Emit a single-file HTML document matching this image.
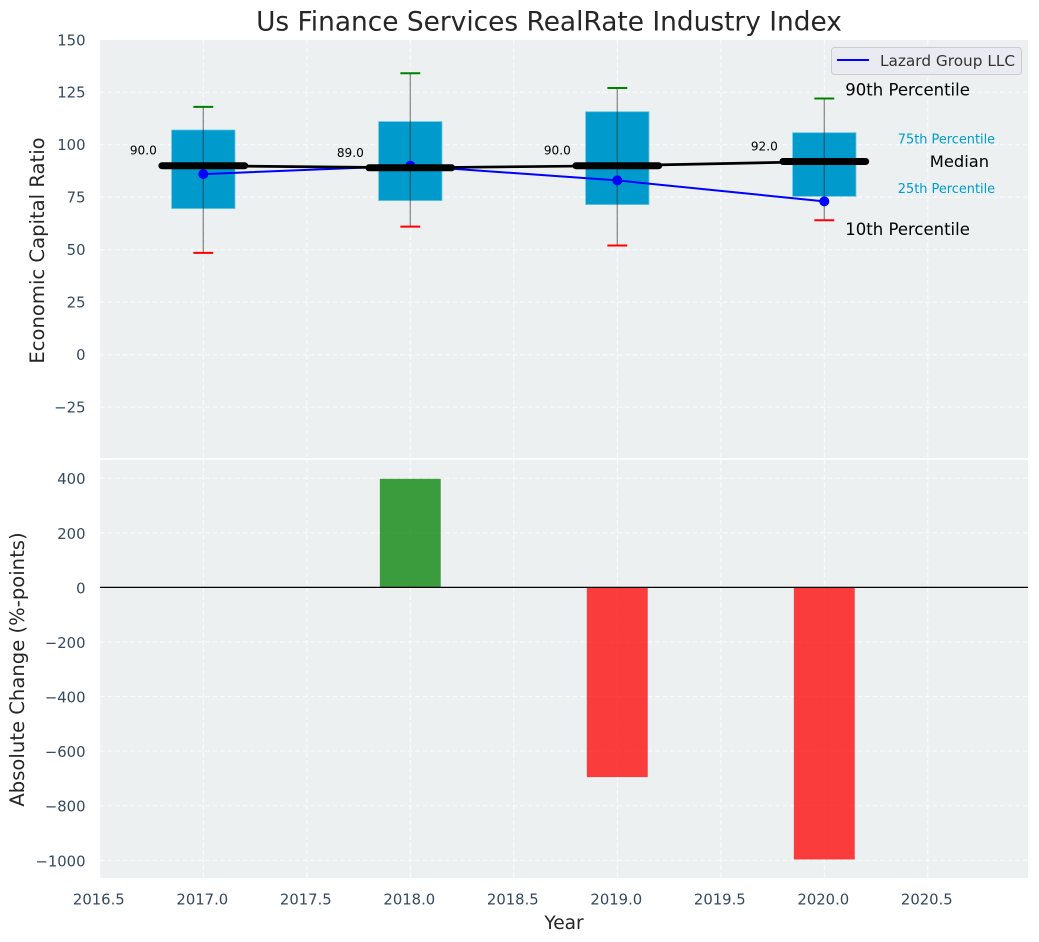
<!DOCTYPE html>
<html lang="en">
<head>
<meta charset="utf-8">
<title>Us Finance Services RealRate Industry Index</title>
<style>
html,body{margin:0;padding:0;background:#fff;}
svg{display:block;font-family:"DejaVu Sans","Liberation Sans",sans-serif;}
</style>
</head>
<body>
<svg id="chart" xmlns="http://www.w3.org/2000/svg" width="1039" height="942" viewBox="0 0 1039 942">
  <rect x="0" y="0" width="1039" height="942" fill="#ffffff"/>
  <rect x="100" y="40" width="928" height="418" fill="#ecf0f1"/>
  <rect x="100" y="460" width="928" height="418" fill="#ecf0f1"/>
  <g id="grid"></g>
  <g id="marks"></g>
  <g id="labels"></g>
  <text x="549" y="30.5" font-size="26.4" fill="#262626" text-anchor="middle">Us Finance Services RealRate Industry Index</text>
  <text transform="translate(44 250.5) rotate(-90)" font-size="19.6" fill="#262626" text-anchor="middle">Economic Capital Ratio</text>
  <text transform="translate(24 669.5) rotate(-90)" font-size="19.6" fill="#262626" text-anchor="middle">Absolute Change (%-points)</text>
  <text x="564" y="929" font-size="18.6" fill="#262626" text-anchor="middle">Year</text>
  <g>
    <rect x="831.5" y="47.5" width="190" height="27" rx="3" ry="3" fill="#eaeaf2" fill-opacity="0.8" stroke="#cccccc" stroke-width="1"/>
    <line x1="837" x2="869" y1="60" y2="60" stroke="#0000ff" stroke-width="2"/>
    <text x="880" y="66" font-size="15.3" fill="#333333">Lazard Group LLC</text>
  </g>
</svg>
<script>
const years = [2017, 2018, 2019, 2020];
const p90 = [118, 134, 127, 122];
const q3 = [107, 111, 115.7, 105.7];
const medians = [90, 89, 90, 92];
const q1 = [69.6, 73.4, 71.5, 75.4];
const p10 = [48.5, 61, 52, 64];
const lazard = [86, 90, 83, 73];
const absoluteChange = [0, 398, -695, -997];
const medianLabels = ['90.0', '89.0', '90.0', '92.0'];
const xTicks = [2016.5, 2017, 2017.5, 2018, 2018.5, 2019, 2019.5, 2020, 2020.5];
const xTickLabels = ['2016.5', '2017.0', '2017.5', '2018.0', '2018.5', '2019.0', '2019.5', '2020.0', '2020.5'];
const topTicks = [-25, 0, 25, 50, 75, 100, 125, 150];
const topTickLabels = ['\u221225', '0', '25', '50', '75', '100', '125', '150'];
const bottomTicks = [-1000, -800, -600, -400, -200, 0, 200, 400];
const bottomTickLabels = ['\u22121000', '\u2212800', '\u2212600', '\u2212400', '\u2212200', '0', '200', '400'];

const x = v => 203.3 + (v - 2017) * 207;
const yTop = v => 39.7 + (150 - v) * 2.1;
const yBottom = v => 587.4 - v * 0.2729;

const NS = 'http://www.w3.org/2000/svg';
const gridLayer = document.getElementById('grid');
const marksLayer = document.getElementById('marks');
const labelsLayer = document.getElementById('labels');

function make(parent, tag, attrs, text) {
  const el = document.createElementNS(NS, tag);
  for (const k in attrs) el.setAttribute(k, attrs[k]);
  if (text !== undefined) el.textContent = text;
  parent.appendChild(el);
  return el;
}
const gridStyle = {stroke: '#ffffff', 'stroke-width': 1.05, 'stroke-dasharray': '5 2.5', 'stroke-opacity': 0.75};

xTicks.forEach((t, i) => {
  const a = make(gridLayer, 'line', {x1: x(t), x2: x(t), y1: 40, y2: 458, ...gridStyle});
  
  
  const b = make(gridLayer, 'line', {x1: x(t), x2: x(t), y1: 460, y2: 878, ...gridStyle});
  
  
  const l = make(labelsLayer, 'text', {x: x(t) - 1, y: 904.5, 'font-size': 14.8, fill: '#34495e', 'text-anchor': 'middle'}, xTickLabels[i]);
  
  
});
topTicks.forEach((t, i) => {
  if (t === 150) {
    const l0 = make(labelsLayer, 'text', {x: 85.5, y: yTop(t) + 5.8, 'font-size': 14.8, fill: '#34495e', 'text-anchor': 'end'}, topTickLabels[i]);
    
    
    return;
  }
  const g = make(gridLayer, 'line', {x1: 100, x2: 1028, y1: yTop(t), y2: yTop(t), ...gridStyle});
  
  
  const l = make(labelsLayer, 'text', {x: 85.5, y: yTop(t) + 5.5, 'font-size': 14.8, fill: '#34495e', 'text-anchor': 'end'}, topTickLabels[i]);
  
  
});
bottomTicks.forEach((t, i) => {
  const g = make(gridLayer, 'line', {x1: 100, x2: 1028, y1: yBottom(t), y2: yBottom(t), ...gridStyle});
  
  
  const l = make(labelsLayer, 'text', {x: 85.5, y: yBottom(t) + 6, 'font-size': 14.8, fill: '#34495e', 'text-anchor': 'end'}, bottomTickLabels[i]);
  
  
});

// change bars
years.forEach((yr, i) => {
  const v = absoluteChange[i];
  if (v === 0) return;
  const top = Math.min(yBottom(v), yBottom(0));
  const h = Math.abs(yBottom(v) - yBottom(0));
  const r = make(marksLayer, 'rect', {x: x(yr - 0.147), y: top, width: x(yr + 0.147) - x(yr - 0.147), height: h, fill: v >= 0 ? '#008000' : '#ff0000', 'fill-opacity': 0.75});
  
  
});
const zero = make(marksLayer, 'line', {x1: 100, x2: 1028, y1: yBottom(0), y2: yBottom(0), stroke: '#000000', 'stroke-width': 1.3});



// boxes
years.forEach((yr, i) => {
  const r = make(marksLayer, 'rect', {x: x(yr - 0.153), y: yTop(q3[i]), width: x(yr + 0.153) - x(yr - 0.153), height: yTop(q1[i]) - yTop(q3[i]), fill: '#009bcc', stroke: '#5fc3e2', 'stroke-width': 0.8});
  
  
  const w = make(marksLayer, 'line', {x1: x(yr), x2: x(yr), y1: yTop(p90[i]), y2: yTop(p10[i]), stroke: '#222222', 'stroke-opacity': 0.5, 'stroke-width': 1.3});
  
  
  const c1 = make(marksLayer, 'line', {x1: x(yr - 0.048), x2: x(yr + 0.048), y1: yTop(p90[i]), y2: yTop(p90[i]), stroke: '#008000', 'stroke-width': 2});
  
  
  const c2 = make(marksLayer, 'line', {x1: x(yr - 0.048), x2: x(yr + 0.048), y1: yTop(p10[i]), y2: yTop(p10[i]), stroke: '#ff0000', 'stroke-width': 2});
  
  
});

// company line
const lazardLine = make(marksLayer, 'polyline', {points: years.map((yr, i) => x(yr) + ',' + yTop(lazard[i])).join(' '), fill: 'none', stroke: '#0000ff', 'stroke-width': 2});


years.forEach((yr, i) => {
  const d = make(marksLayer, 'circle', {cx: x(yr), cy: yTop(lazard[i]), r: 5, fill: '#0000ff'});
  
  
});

// medians
const medianLine = make(marksLayer, 'polyline', {points: years.map((yr, i) => x(yr) + ',' + yTop(medians[i])).join(' '), fill: 'none', stroke: '#000000', 'stroke-width': 2.7});


years.forEach((yr, i) => {
  const m = make(marksLayer, 'line', {x1: x(yr - 0.2), x2: x(yr + 0.2), y1: yTop(medians[i]), y2: yTop(medians[i]), stroke: '#000000', 'stroke-width': 7, 'stroke-linecap': 'round'});
  
  
  const t = make(labelsLayer, 'text', {x: x(yr) - 46.5, y: yTop(medians[i]) - 11, 'font-size': 12.1, fill: '#000000', 'text-anchor': 'end'}, medianLabels[i]);
  
  
});

// percentile annotations (anchored to the last year)
const last = years.length - 1;
const a90 = make(labelsLayer, 'text', {x: x(years[last]) + 21, y: yTop(p90[last]) - 3, 'font-size': 16.5, fill: '#000000'}, '90th Percentile');


const a10 = make(labelsLayer, 'text', {x: x(years[last]) + 21, y: yTop(p10[last]) + 14.5, 'font-size': 16.5, fill: '#000000'}, '10th Percentile');


const aMed = make(labelsLayer, 'text', {x: x(years[last]) + 105.5, y: yTop(medians[last]) + 5.5, 'font-size': 16.3, fill: '#000000'}, 'Median');


const a75 = make(labelsLayer, 'text', {x: x(years[last]) + 73.5, y: yTop(q3[last]) + 11, 'font-size': 12.9, fill: '#009bcc'}, '75th Percentile');


const a25 = make(labelsLayer, 'text', {x: x(years[last]) + 73.5, y: yTop(q1[last]) - 3.5, 'font-size': 12.9, fill: '#009bcc'}, '25th Percentile');


</script>
</body>
</html>
